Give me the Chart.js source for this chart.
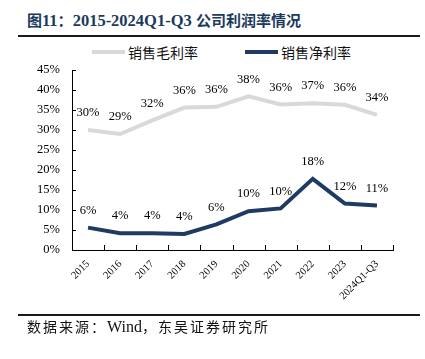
<!DOCTYPE html>
<html>
<head>
<meta charset="utf-8">
<script src="https://cdn.jsdelivr.net/npm/chart.js@4.4.1/dist/chart.umd.min.js"></script>
<style>
  html, body { margin: 0; padding: 0; background: #fff; }
  #wrap { position: relative; width: 425px; height: 359px; background: #fff; overflow: hidden; }
  #chart { position: absolute; left: 0; top: 0; }
  .rule { position: absolute; left: 18px; width: 402px; height: 2px; background: #1a1a1a; }
  #title { position: absolute; left: 27px; top: 9px; white-space: nowrap; color: #1B3A5C;
           font-family: "Liberation Serif", "Noto Sans CJK SC", serif; font-weight: bold; font-size: 16.5px; line-height: 22px; }
  #title .cjk { font-family: "Noto Sans CJK SC", sans-serif; font-size: 15px; }
  .lg { position: absolute; top: 43px; height: 18px; font-family: "Noto Sans CJK SC", sans-serif; font-size: 14px; line-height: 18px; color: #111; white-space: nowrap; }
  .lg .ln { position: absolute; top: 7px; height: 4px; width: 33px; left: 0; }
  .lg .tx { position: absolute; left: 36px; top: 0; }
  #src { position: absolute; left: 27px; top: 316px; white-space: nowrap; color: #111;
         font-family: "Noto Sans CJK SC", sans-serif; font-size: 14px; line-height: 20px; letter-spacing: 2px; }
  #src .lat { font-family: "Liberation Serif", serif; font-size: 16px; letter-spacing: 0; }
</style>
</head>
<body>
<div id="wrap">
  <div id="title"><span class="cjk">图</span>11<span class="cjk">：</span>2015-2024Q1-Q3 <span class="cjk">公司利润率情况</span></div>
  <div class="rule" style="top:35px"></div>
  <div class="lg" id="lg1" style="left:92px;"><div class="ln" id="ln1"></div><div class="tx" id="tx1"></div></div>
  <div class="lg" id="lg2" style="left:245px;"><div class="ln" id="ln2"></div><div class="tx" id="tx2"></div></div>
  <canvas id="chart" width="425" height="359"></canvas>
  <div class="rule" style="top:314px"></div>
  <div id="src">数据来源：<span class="lat">Wind</span>，东吴证券研究所</div>
</div>
<script>
// ---- data ----
const categories = ['2015', '2016', '2017', '2018', '2019', '2020', '2021', '2022', '2023', '2024Q1-Q3'];
const grossMargin = [30.0, 29.0, 32.4, 35.6, 35.8, 38.4, 36.4, 36.7, 36.3, 33.8];
const netMargin = [5.6, 4.2, 4.2, 4.0, 6.4, 9.7, 10.4, 17.8, 11.6, 11.1];
const seriesNames = ['销售毛利率', '销售净利率'];
const yTicks = [0, 5, 10, 15, 20, 25, 30, 35, 40, 45];

const grayColor = '#D9D9D9';
const navyColor = '#1F3B63';

document.getElementById('ln1').style.background = grayColor;
document.getElementById('ln2').style.background = navyColor;
document.getElementById('tx1').textContent = seriesNames[0];
document.getElementById('tx2').textContent = seriesNames[1];

const valueLabels = {
  id: 'valueLabels',
  afterDatasetsDraw(chart) {
    const ctx = chart.ctx;
    ctx.save();
    ctx.font = '12.5px "Liberation Serif", serif';
    ctx.fillStyle = '#000';
    ctx.textAlign = 'center';
    ctx.textBaseline = 'middle';
    chart.data.datasets.forEach((ds, di) => {
      const meta = chart.getDatasetMeta(di);
      meta.data.forEach((pt, i) => {
        ctx.fillText(Math.round(ds.data[i]) + '%', pt.x, pt.y - 17);
      });
    });
    ctx.restore();
  }
};

const innerTicks = {
  id: 'innerTicks',
  afterDraw(chart) {
    const ctx = chart.ctx;
    const xs = chart.scales.x, ys = chart.scales.y;
    const area = chart.chartArea;
    ctx.save();
    ctx.strokeStyle = '#000';
    ctx.lineWidth = 1;
    ctx.beginPath();
    yTicks.forEach(v => {
      const py = Math.round(ys.getPixelForValue(v)) + 0.5;
      ctx.moveTo(area.left, py);
      ctx.lineTo(area.left + 4, py);
    });
    for (let i = 0; i <= categories.length; i++) {
      const px = Math.round(xs.getPixelForValue(i - 0.5)) + 0.5;
      ctx.moveTo(px, area.bottom);
      ctx.lineTo(px, area.bottom - 5);
    }
    ctx.stroke();
    ctx.restore();
  }
};

new Chart(document.getElementById('chart'), {
  type: 'line',
  data: {
    labels: categories,
    datasets: [
      { label: seriesNames[0], data: grossMargin, borderColor: grayColor, backgroundColor: grayColor,
        borderWidth: 4, pointRadius: 0, tension: 0, fill: false },
      { label: seriesNames[1], data: netMargin, borderColor: navyColor, backgroundColor: navyColor,
        borderWidth: 4, pointRadius: 0, tension: 0, fill: false }
    ]
  },
  options: {
    responsive: false,
    animation: false,
    devicePixelRatio: 1,
    layout: { padding: { top: 70, right: 32, bottom: 54, left: 0 } },
    plugins: { legend: { display: false }, title: { display: false }, tooltip: { enabled: false } },
    scales: {
      x: {
        type: 'category',
        offset: true,
        grid: { display: true, drawOnChartArea: false, drawTicks: false },
        border: { display: true, color: '#000', width: 1 },
        ticks: {
          autoSkip: false, minRotation: 45, maxRotation: 45, padding: 8,
          color: '#000', font: { family: '"Liberation Serif", serif', size: 10.5 }
        },
        afterFit(s) { s.height = 55; }
      },
      y: {
        min: 0, max: 45,
        grid: { display: true, drawOnChartArea: false, drawTicks: false },
        border: { display: true, color: '#000', width: 1 },
        ticks: {
          stepSize: 5, padding: 12, color: '#000',
          font: { family: '"Liberation Serif", serif', size: 12.5 },
          callback: v => v + '%'
        },
        afterFit(s) { s.width = 72; }
      }
    }
  },
  plugins: [valueLabels, innerTicks]
});
</script>
</body>
</html>
